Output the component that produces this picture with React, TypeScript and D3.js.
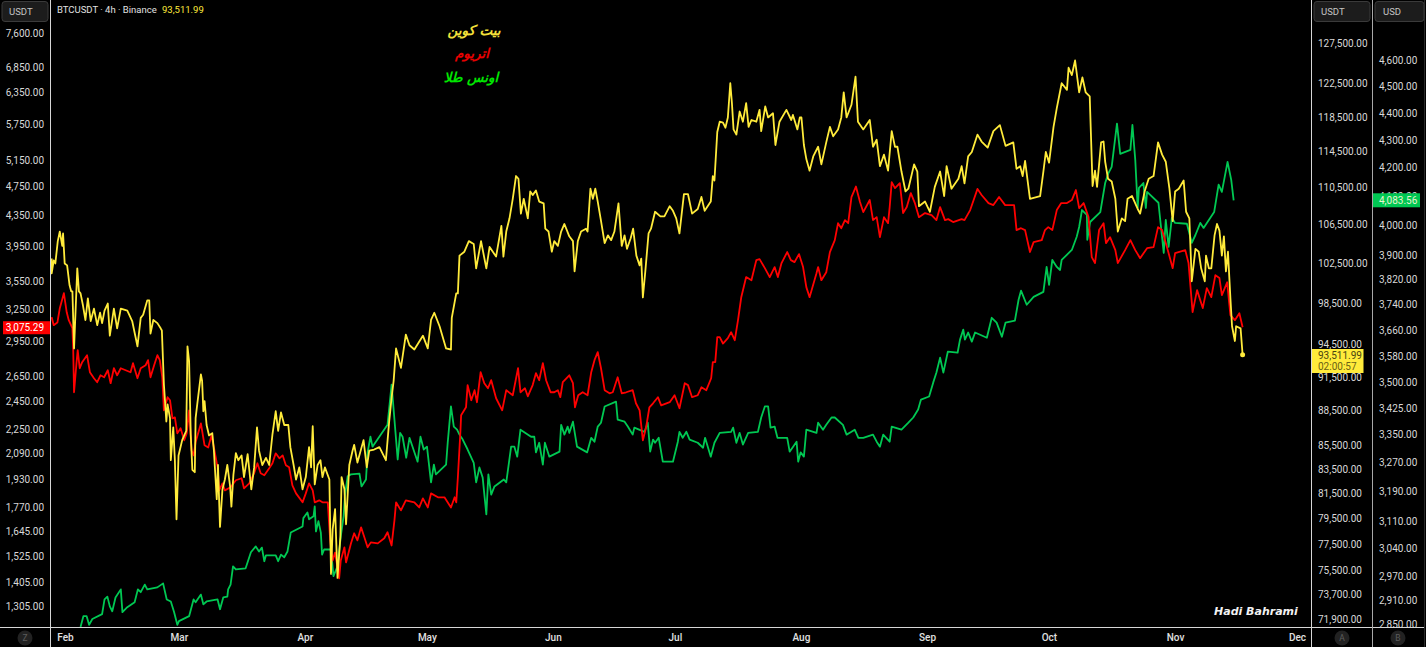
import React, { useEffect, useRef } from 'react'
import * as d3 from 'd3'

// [days since 1 Feb 2025, price]
const btcPoints: [number, number][] = [
[-3.4,102900],[-3.4,101400],[-2.9,102700],[-2.5,102400],[-1.9,104700],[-1.4,105700],[-0.8,104200],[-0.6,105500],[-0.2,102400],[0.4,102200],[1.0,100200],[1.4,99600],[1.7,99600],[2.1,94100],[2.9,101900],[3.3,99600],[3.7,99400],[4.3,98200],[4.9,96800],[5.5,98900],[6.2,96700],[7.0,97900],[7.8,96300],[8.5,97500],[9.0,96500],[9.6,97700],[10.4,98400],[10.9,95300],[11.9,97900],[12.7,96000],[13.6,97900],[15.2,97700],[16.4,96700],[17.7,94300],[18.5,97000],[19.1,97300],[20.1,98700],[20.6,98700],[20.9,95500],[21.6,96800],[22.6,96500],[23.4,96000],[23.7,95800],[24.2,90800],[24.8,87500],[25.1,89000],[25.7,87800],[25.9,84200],[26.5,87000],[26.9,84200],[27.3,79400],[27.8,84600],[28.7,85900],[29.7,86700],[30.0,94300],[30.4,92900],[30.8,86400],[31.2,83400],[31.8,83200],[32.0,87800],[32.4,89000],[33.3,91700],[33.6,91100],[33.9,88400],[34.2,89300],[34.7,87200],[35.3,86300],[36.1,86500],[36.5,85000],[37.2,81000],[37.5,83800],[38.0,78800],[38.6,81800],[39.2,82600],[39.8,83800],[40.5,82000],[40.8,80400],[41.3,83000],[41.9,84800],[42.5,84200],[43.3,84600],[43.9,82800],[44.8,84700],[45.7,81800],[46.4,83600],[47.1,87000],[47.6,85000],[48.4,83800],[49.3,84400],[50.1,83800],[50.9,86400],[51.7,88400],[52.3,86700],[53.0,88300],[53.8,87200],[54.8,87200],[55.3,85300],[56.1,83800],[56.7,82600],[57.5,83600],[58.3,81800],[59.1,82800],[59.9,85300],[60.4,83600],[60.8,87100],[61.3,82200],[62.0,83800],[62.7,84200],[63.2,82800],[63.8,83600],[64.9,82600],[65.3,75200],[65.7,78600],[66.3,80200],[66.9,74900],[67.6,78000],[67.9,82800],[68.6,81800],[69.0,79000],[69.8,83800],[70.6,85000],[71.0,85500],[71.8,84000],[73.3,85900],[74.1,83600],[74.7,85000],[75.9,85100],[77.2,85300],[78.8,84200],[79.6,87500],[80.2,89600],[80.7,91100],[81.3,94100],[81.9,93200],[82.5,92300],[83.7,95400],[84.6,94400],[85.8,94000],[87.9,95300],[89.1,94100],[89.9,96800],[90.7,97500],[92.0,96200],[93.6,94100],[94.8,94000],[95.0,97000],[96.1,99400],[96.5,99400],[96.9,103200],[98.1,103600],[99.2,104700],[100.4,104400],[101.0,101900],[102.2,104700],[103.5,101900],[104.3,104100],[105.9,103100],[107.2,106300],[107.7,103100],[108.4,105700],[109.2,107100],[110.0,109200],[110.8,111700],[111.4,111400],[112.0,107600],[112.7,109200],[113.7,107100],[114.3,110000],[114.9,109600],[115.7,110100],[116.5,108900],[117.6,108700],[118.0,106000],[118.8,105700],[119.6,103600],[120.2,104700],[121.1,104200],[121.9,105700],[122.7,106500],[123.9,105200],[124.8,104700],[125.2,101600],[126.0,104700],[126.8,105700],[128.0,106000],[128.4,105700],[129.1,110300],[129.7,109200],[130.3,110300],[130.9,108900],[131.6,107100],[132.6,104500],[133.4,105300],[134.2,104800],[135.0,105700],[136.0,108700],[136.8,104200],[137.5,105300],[138.1,103900],[139.0,105000],[139.6,106000],[140.4,103200],[141.2,102200],[141.6,102900],[142.0,99000],[142.6,101600],[143.4,105500],[144.0,106000],[145.0,107800],[146.3,107300],[147.3,107300],[148.6,108400],[149.4,107900],[150.2,107100],[151.0,105500],[152.1,109700],[153.1,109700],[154.1,107600],[155.5,108100],[156.4,109400],[157.2,107900],[158.7,108900],[159.2,111700],[159.6,111200],[160.3,116700],[160.9,117900],[161.7,117800],[162.3,117200],[162.9,118400],[163.5,122500],[163.9,120100],[164.3,117000],[165.0,116400],[165.8,119100],[166.6,117900],[167.4,120100],[168.0,117300],[168.7,118100],[169.9,117900],[170.7,119300],[171.1,116800],[172.1,119700],[172.8,118400],[174.0,118900],[174.6,115200],[175.6,117900],[177.3,119300],[178.5,118100],[178.9,118700],[180.0,117000],[180.6,118400],[181.0,118400],[181.6,115200],[182.2,113600],[183.0,112300],[183.9,113900],[185.1,115000],[185.9,113000],[187.1,115500],[188.0,117300],[188.8,116200],[190.0,117000],[190.8,118400],[191.4,121400],[192.1,118400],[193.3,119900],[194.3,123300],[194.9,117900],[196.2,117000],[197.8,118100],[198.6,115000],[199.5,115800],[200.3,112800],[201.3,114100],[202.3,112300],[203.2,116800],[204.0,115000],[204.6,115000],[205.6,112200],[206.6,110000],[207.3,110300],[208.7,113000],[209.5,112200],[209.9,108400],[211.4,108900],[212.6,107800],[213.8,110500],[215.1,112200],[216.1,109500],[216.7,112800],[217.9,110300],[219.6,111400],[220.4,112800],[221.1,110900],[222.0,113900],[222.9,114400],[224.3,116400],[225.3,115600],[226.8,114900],[228.2,116800],[229.8,117500],[231.2,115100],[233.1,115500],[233.9,112500],[234.8,112800],[235.4,111700],[236.0,113400],[237.2,109200],[239.7,109500],[240.5,112200],[241.1,114400],[241.9,113200],[243.0,117300],[243.8,119500],[245.0,122500],[246.3,121700],[246.7,124400],[247.5,123500],[248.3,125300],[249.3,121400],[250.1,123200],[250.9,121400],[251.9,120900],[252.6,110600],[253.2,112300],[253.7,110500],[254.7,115500],[255.3,115600],[255.7,113300],[256.4,111400],[257.3,111100],[258.2,109200],[258.8,105700],[259.8,107100],[260.6,106800],[261.2,109200],[262.3,109500],[263.7,108100],[264.3,107600],[265.4,110000],[266.4,111400],[267.6,111700],[268.7,115500],[269.7,114100],[270.6,113300],[271.5,110300],[272.3,106800],[272.9,110000],[273.8,110300],[275.0,111200],[275.6,107800],[276.4,107100],[277.0,100600],[277.9,103900],[278.7,103600],[279.3,101900],[280.2,100600],[280.5,103200],[281.2,101900],[281.8,101900],[282.6,105300],[283.2,106500],[283.8,105800],[284.4,103200],[284.9,105200],[285.4,101600],[285.9,103600],[286.5,98900],[286.9,96200],[287.6,94800],[287.9,96200],[289.0,96000],[289.5,93511.99],
]

const ethPoints: [number, number][] = [
[-3.4,3172],[-2.9,3095],[-2.0,3120],[-1.4,3260],[-0.4,3415],[0.3,3220],[0.8,3143],[1.7,3066],[1.9,2866],[2.1,2518],[2.7,2753],[3.0,2866],[3.5,2711],[4.1,2762],[5.3,2822],[6.0,2678],[7.0,2629],[7.8,2597],[8.6,2653],[9.5,2637],[10.4,2694],[11.1,2589],[11.9,2711],[12.7,2653],[13.6,2711],[14.8,2694],[16.0,2678],[16.6,2753],[17.7,2629],[18.5,2711],[19.7,2736],[20.3,2779],[20.9,2637],[21.8,2736],[22.6,2822],[23.2,2779],[23.8,2637],[24.2,2382],[25.1,2480],[25.7,2457],[26.3,2324],[26.9,2331],[27.5,2219],[28.3,2254],[29.2,2172],[29.8,2219],[30.4,2382],[31.0,2106],[31.5,2074],[32.0,2159],[33.3,2288],[34.2,2139],[35.1,2125],[35.9,2205],[36.5,2125],[37.4,1999],[37.8,1862],[38.6,1903],[39.2,1862],[40.6,1880],[41.9,1921],[43.3,1933],[43.9,1874],[45.2,1903],[46.4,1963],[47.2,2024],[48.0,1963],[48.9,1951],[50.1,1993],[50.9,2024],[51.7,2087],[52.6,2055],[53.4,2074],[54.2,2012],[55.0,1999],[55.8,1891],[56.7,1845],[58.3,1795],[59.1,1845],[59.9,1903],[60.8,1862],[61.3,1795],[62.4,1806],[63.2,1795],[64.5,1795],[65.1,1597],[65.7,1501],[66.3,1538],[66.9,1469],[67.3,1421],[67.7,1501],[68.6,1563],[69.0,1492],[70.2,1582],[71.0,1632],[71.8,1597],[72.7,1662],[73.5,1612],[74.3,1563],[75.1,1587],[76.8,1582],[78.4,1607],[79.2,1637],[80.2,1572],[80.9,1698],[81.3,1795],[82.5,1751],[83.7,1806],[85.8,1795],[87.0,1767],[87.9,1817],[89.1,1767],[89.9,1845],[91.6,1823],[93.2,1823],[94.8,1767],[95.7,1823],[96.1,1795],[96.5,1939],[97.1,2219],[97.3,2346],[98.5,2404],[98.9,2574],[99.8,2457],[100.6,2534],[101.2,2442],[102.1,2678],[103.0,2589],[103.9,2549],[104.7,2613],[105.9,2472],[107.4,2382],[108.4,2534],[110.0,2495],[111.3,2711],[111.9,2518],[113.0,2549],[113.7,2487],[114.9,2574],[115.7,2670],[116.5,2613],[117.4,2753],[118.2,2613],[119.3,2518],[120.2,2518],[121.1,2534],[121.7,2480],[122.3,2597],[123.9,2653],[124.8,2589],[125.3,2404],[126.1,2495],[127.2,2518],[128.4,2495],[129.3,2678],[130.1,2779],[130.9,2849],[131.7,2711],[132.6,2534],[133.8,2510],[134.6,2518],[135.8,2637],[136.8,2510],[137.9,2518],[139.5,2534],[140.3,2434],[141.2,2382],[142.0,2172],[142.8,2261],[143.6,2404],[144.5,2434],[145.7,2480],[146.5,2419],[148.6,2442],[149.8,2495],[151.0,2397],[152.3,2589],[153.1,2574],[154.1,2480],[155.5,2495],[156.4,2557],[157.6,2534],[158.8,2629],[159.2,2762],[159.8,2762],[160.3,2983],[160.9,2983],[161.7,2925],[162.9,2974],[163.7,3029],[164.6,2955],[165.4,3143],[166.2,3373],[167.4,3588],[168.7,3554],[169.9,3780],[170.7,3792],[172.0,3688],[173.2,3588],[174.4,3700],[175.2,3588],[176.1,3746],[177.5,3875],[178.4,3780],[179.3,3757],[180.4,3851],[181.4,3700],[182.2,3479],[183.0,3373],[184.7,3630],[185.1,3700],[185.9,3554],[187.1,3642],[188.0,3875],[189.2,4020],[190.0,4235],[190.8,4170],[191.7,4275],[192.5,4235],[193.3,4589],[194.4,4740],[195.4,4520],[196.2,4382],[197.8,4547],[198.6,4275],[199.5,4314],[200.3,4057],[201.3,4314],[202.3,4235],[202.7,4450],[203.2,4805],[204.0,4717],[205.2,4790],[206.0,4369],[206.9,4450],[207.9,4646],[208.9,4505],[209.9,4314],[211.4,4369],[213.0,4341],[214.2,4275],[215.1,4450],[216.3,4275],[217.1,4288],[218.3,4249],[220.4,4288],[221.1,4275],[222.5,4409],[224.3,4706],[225.3,4618],[227.0,4505],[228.2,4477],[229.6,4589],[231.1,4477],[233.3,4477],[233.9,4146],[235.0,4170],[236.0,4146],[237.2,3875],[238.1,3995],[240.1,4020],[240.9,4146],[241.7,4184],[242.7,4146],[243.8,4409],[244.9,4505],[246.3,4505],[247.5,4547],[248.5,4689],[249.3,4436],[250.4,4505],[251.6,4314],[252.4,3815],[253.2,3746],[254.2,4146],[255.3,4235],[255.9,3983],[256.9,4057],[258.2,3898],[258.8,3746],[260.6,3898],[261.9,4020],[263.1,3898],[264.3,3803],[266.0,3922],[267.6,3934],[268.7,4184],[269.7,4146],[270.9,3934],[272.3,3688],[272.9,3862],[275.4,3898],[276.2,3746],[277.2,3221],[278.3,3447],[279.7,3262],[280.7,3468],[281.8,3373],[282.8,3609],[283.8,3577],[284.4,3394],[285.7,3531],[286.5,3192],[287.6,3143],[288.7,3211],[289.5,3075.29],
]

const goldPoints: [number, number][] = [
[3.7,2843],[4.4,2869],[5.2,2869],[5.8,2848],[6.6,2862],[9.0,2874],[9.6,2910],[10.3,2917],[10.9,2893],[11.5,2881],[12.3,2915],[13.6,2935],[14.0,2879],[15.2,2891],[17.0,2903],[17.8,2935],[18.5,2928],[19.5,2947],[20.1,2935],[22.6,2940],[24.0,2950],[24.9,2910],[25.9,2905],[26.7,2879],[27.5,2848],[27.9,2857],[30.4,2869],[31.5,2910],[32.0,2903],[33.3,2922],[33.9,2898],[34.7,2905],[37.4,2910],[38.0,2886],[38.8,2915],[39.8,2917],[40.0,2935],[40.6,2947],[41.2,2993],[41.9,2985],[44.3,2988],[45.6,3029],[46.8,3044],[47.6,3031],[48.3,3041],[48.9,3006],[49.3,3021],[51.7,3021],[52.3,3006],[53.0,3023],[53.8,3016],[54.6,3031],[55.4,3080],[58.3,3096],[58.5,3118],[59.5,3133],[59.9,3115],[61.0,3123],[61.3,3149],[61.6,3083],[62.2,3110],[62.8,3080],[63.1,3023],[63.6,3036],[65.3,3036],[65.9,2968],[66.9,2993],[67.7,3070],[68.4,3123],[68.7,3176],[69.4,3231],[70.2,3236],[72.3,3238],[72.8,3203],[73.9,3222],[74.3,3297],[75.0,3341],[75.5,3313],[79.2,3375],[80.2,3492],[80.7,3419],[81.7,3277],[82.3,3352],[82.9,3341],[83.8,3282],[84.6,3338],[86.6,3271],[87.3,3341],[88.1,3305],[88.9,3313],[89.9,3214],[90.6,3263],[91.1,3236],[93.6,3263],[94.0,3324],[94.8,3428],[95.5,3370],[96.3,3361],[96.9,3347],[97.7,3333],[98.9,3305],[100.4,3268],[101.0,3214],[101.8,3255],[102.6,3227],[103.5,3128],[104.0,3236],[104.7,3181],[105.5,3203],[107.8,3222],[108.4,3214],[109.6,3313],[110.4,3313],[111.1,3285],[111.9,3361],[114.5,3341],[115.3,3341],[115.7,3297],[116.5,3324],[117.4,3263],[117.9,3324],[119.0,3285],[121.5,3299],[121.9,3375],[122.7,3347],[123.5,3370],[123.9,3352],[124.8,3384],[125.8,3313],[128.3,3297],[129.3,3338],[130.1,3327],[130.9,3370],[131.7,3381],[132.6,3428],[135.4,3442],[135.8,3390],[137.5,3384],[138.3,3370],[139.5,3347],[139.9,3367],[142.4,3355],[143.2,3381],[143.8,3299],[144.5,3333],[145.0,3324],[145.9,3338],[146.9,3271],[149.4,3271],[150.6,3327],[151.0,3355],[151.8,3338],[152.7,3355],[153.5,3333],[155.5,3324],[156.8,3310],[157.3,3338],[158.7,3285],[159.6,3324],[160.9,3352],[163.7,3355],[164.2,3367],[165.0,3324],[165.8,3352],[166.6,3319],[167.9,3352],[170.3,3355],[171.1,3396],[172.0,3428],[172.8,3428],[173.4,3367],[174.4,3370],[175.1,3338],[177.5,3338],[178.1,3299],[179.8,3327],[180.2,3271],[180.8,3297],[181.6,3285],[182.2,3361],[184.7,3352],[185.1,3381],[186.3,3361],[187.1,3375],[188.4,3396],[189.2,3396],[191.2,3375],[192.1,3347],[193.3,3355],[194.1,3361],[195.0,3338],[196.2,3338],[198.6,3347],[199.5,3327],[200.3,3313],[201.1,3347],[202.7,3327],[203.2,3370],[205.6,3361],[207.3,3381],[208.5,3396],[209.7,3419],[210.4,3448],[212.4,3457],[213.4,3498],[214.2,3528],[215.1,3573],[215.9,3528],[217.0,3591],[219.4,3588],[220.0,3628],[220.8,3659],[221.2,3628],[222.0,3650],[222.9,3622],[223.7,3650],[226.6,3634],[227.8,3696],[229.0,3681],[230.3,3637],[231.2,3681],[233.5,3687],[234.4,3753],[235.0,3782],[236.4,3737],[238.1,3762],[240.5,3778],[241.3,3859],[241.9,3801],[242.7,3882],[243.8,3859],[244.6,3849],[245.0,3882],[247.5,3915],[248.7,3959],[249.3,3992],[250.0,4050],[251.2,4033],[251.3,3949],[252.0,4009],[254.5,4043],[255.7,4144],[256.5,4179],[257.3,4201],[258.6,4358],[259.4,4248],[261.9,4262],[262.4,4353],[263.1,4226],[263.7,4057],[264.0,4127],[265.1,4144],[265.7,4057],[266.0,4113],[268.8,4075],[270.1,3905],[270.6,4016],[271.3,3925],[272.1,4023],[272.9,4006],[275.8,4003],[277.0,3939],[277.9,3965],[279.1,4006],[279.9,3989],[282.5,4043],[283.6,4138],[284.4,4113],[285.8,4219],[286.7,4155],[287.3,4083.56],
]

const ethTicks = [7600, 6850, 6350, 5750, 5150, 4750, 4350, 3950, 3550, 3250, 2950, 2650, 2450, 2250, 2090, 1930, 1770, 1645, 1525, 1405, 1305]
const btcTicks = [127500, 122500, 118500, 114500, 110500, 106500, 102500, 98500, 94500, 91500, 88500, 85500, 83500, 81500, 79500, 77500, 75500, 73700, 71900]
const goldTicks = [4600, 4500, 4400, 4300, 4200, 4100, 4000, 3900, 3820, 3740, 3660, 3580, 3500, 3425, 3350, 3270, 3190, 3110, 3040, 2970, 2910, 2850]
const monthTicks = ['2025-02-01', '2025-03-01', '2025-04-01', '2025-05-01', '2025-06-01', '2025-07-01', '2025-08-01', '2025-09-01', '2025-10-01', '2025-11-01', '2025-12-01']
const legendLabels = ['بیت کوین', 'اتریوم', 'اونس طلا']

const W = 1426
const H = 647
const UI_FONT = 'Roboto, "Noto Sans", sans-serif'
const YELLOW = '#ffeb3b'
const RED = '#ff0000'
const GREEN = '#00c853'
const AXIS_LINE = '#d6d6d6'

const fmt = d3.format(',.2f')
const day0 = Date.UTC(2025, 1, 1)
const toDate = (d: number) => new Date(day0 + d * 86400000)

export default function App() {
    const svgRef = useRef<SVGSVGElement>(null)

    useEffect(() => {
        if (!svgRef.current) return
        const svg = d3.select(svgRef.current)
        svg.selectAll('*').remove()

        const plotBottom = 627
        const x = d3.scaleUtc()
            .domain([new Date(monthTicks[0]), new Date(monthTicks[10])])
            .range([65.5, 1297.5])

        const yEth = d3.scaleLog().domain([1305, 7600]).range([606, 33])
        const yBtc = d3.scaleLog().domain([71900, 127500]).range([619, 43])
        const yGold = d3.scaleLog().domain([2850, 4600]).range([624, 60])

        svg.append('rect').attr('width', W).attr('height', H).attr('fill', '#000')

        const defs = svg.append('defs')
        defs.append('clipPath').attr('id', 'plot-clip').append('rect')
            .attr('x', 51).attr('y', 0).attr('width', 1260).attr('height', plotBottom)
        defs.append('clipPath').attr('id', 'axis-clip').append('rect')
            .attr('x', 0).attr('y', 0).attr('width', W).attr('height', plotBottom)

        // Lines
        const plot = svg.append('g').attr('clip-path', 'url(#plot-clip)')
        const series: [[number, number][], d3.ScaleLogarithmic<number, number>, string][] = [
            [goldPoints, yGold, GREEN],
            [ethPoints, yEth, RED],
            [btcPoints, yBtc, YELLOW],
        ]
        series.forEach(([points, y, color]) => {
            const line = d3.line<[number, number]>()
                .x(d => x(toDate(d[0])))
                .y(d => y(d[1]))
            plot.append('path')
                .datum(points)
                .attr('fill', 'none')
                .attr('stroke', color)
                .attr('stroke-width', 1.8)
                .attr('stroke-linejoin', 'round')
                .attr('d', line)
        })

        const lastBtc = btcPoints[btcPoints.length - 1]
        plot.append('circle')
            .attr('cx', x(toDate(lastBtc[0])))
            .attr('cy', yBtc(lastBtc[1]))
            .attr('r', 2.5)
            .attr('fill', YELLOW)

        // Price axes
        const axisText = svg.append('g')
            .attr('clip-path', 'url(#axis-clip)')
            .attr('font-family', UI_FONT)
            .attr('font-size', 10)
            .attr('fill', '#d8d8d8')

        axisText.selectAll('.eth-tick').data(ethTicks).enter().append('text')
            .attr('x', 44).attr('y', d => yEth(d) + 0.7).attr('dy', '0.35em')
            .attr('text-anchor', 'end').text(d => fmt(d))
        axisText.selectAll('.btc-tick').data(btcTicks).enter().append('text')
            .attr('x', 1318).attr('y', d => yBtc(d) + 0.7).attr('dy', '0.35em')
            .text(d => fmt(d))
        axisText.selectAll('.gold-tick').data(goldTicks).enter().append('text')
            .attr('x', 1379).attr('y', d => yGold(d) + 0.7).attr('dy', '0.35em')
            .text(d => fmt(d))

        // Month labels
        svg.append('g').selectAll('text').data(monthTicks).enter().append('text')
            .attr('x', d => x(new Date(d)))
            .attr('y', 637.5)
            .attr('dy', '0.35em')
            .attr('text-anchor', 'middle')
            .attr('font-family', UI_FONT)
            .attr('font-size', 10)
            .attr('font-weight', 500)
            .attr('fill', '#e0e0e0')
            .text(d => d3.utcFormat('%b')(new Date(d)))

        // Panel borders
        const borders = svg.append('g').attr('stroke', AXIS_LINE).attr('stroke-width', 1)
        borders.append('line').attr('x1', 0).attr('x2', 1424).attr('y1', plotBottom + 0.5).attr('y2', plotBottom + 0.5)
        ;[50.5, 1311.5].forEach(px => {
            borders.append('line').attr('x1', px).attr('x2', px).attr('y1', 0).attr('y2', H)
        })
        borders.append('line').attr('x1', 1372.5).attr('x2', 1372.5).attr('y1', 0).attr('y2', H).attr('stroke', '#a8a8a8')
        borders.append('line').attr('x1', 1424.5).attr('x2', 1424.5).attr('y1', 0).attr('y2', H).attr('stroke', '#2a2a2a')

        // Unit chips
        const chips: [number, number, string][] = [[2, 46, 'USDT'], [1314, 56, 'USDT'], [1375, 49, 'USD']]
        chips.forEach(([cx, cw, label]) => {
            svg.append('rect').attr('x', cx).attr('y', 1.5).attr('width', cw).attr('height', 20).attr('rx', 3)
                .attr('fill', '#1c1c1c').attr('stroke', '#3a3a3a')
            svg.append('text').attr('x', cx + (label === 'USDT' ? 7 : 8)).attr('y', 12).attr('dy', '0.35em')
                .attr('font-family', UI_FONT).attr('font-size', 9.5).attr('fill', '#c4c4c4').text(label)
        })

        // Pane badges
        const badges: [number, string][] = [[25, 'Z'], [1342, 'A'], [1398, 'B']]
        badges.forEach(([bx, label]) => {
            svg.append('circle').attr('cx', bx).attr('cy', 638).attr('r', 7.5).attr('fill', '#222')
            svg.append('text').attr('x', bx).attr('y', 638).attr('dy', '0.35em').attr('text-anchor', 'middle')
                .attr('font-family', UI_FONT).attr('font-size', 8.5).attr('fill', '#5c5c5c').text(label)
        })

        // Title
        const title = svg.append('text').attr('x', 57).attr('y', 9.5).attr('dy', '0.35em')
            .attr('font-family', UI_FONT).attr('font-size', 9.5).attr('fill', '#e0e0e0')
        title.append('tspan').text('BTCUSDT · 4h · Binance')
        title.append('tspan').attr('x', 162).attr('fill', YELLOW).text(fmt(lastBtc[1]))

        // Persian legend
        const legendColors = ['#f4e13a', '#e60000', '#00e600']
        const legendX = [474, 472, 471]
        const legendY = [30, 53, 77]
        legendLabels.forEach((label, i) => {
            svg.append('text')
                .attr('x', legendX[i]).attr('y', legendY[i]).attr('dy', '0.35em')
                .attr('text-anchor', 'middle').attr('direction', 'rtl')
                .attr('font-family', '"DejaVu Sans", sans-serif')
                .attr('font-size', 13.5).attr('font-weight', 'bold').attr('font-style', 'italic')
                .attr('fill', legendColors[i]).text(label)
        })

        svg.append('text').attr('x', 1214).attr('y', 611).attr('dy', '0.35em')
            .attr('font-family', '"DejaVu Sans", sans-serif').attr('font-size', 11)
            .attr('font-weight', 'bold').attr('font-style', 'italic').attr('fill', '#f2f2f2')
            .text('Hadi Bahrami')

        // Last value tags
        const lastEth = ethPoints[ethPoints.length - 1][1]
        const lastGold = goldPoints[goldPoints.length - 1][1]
        const ethY = yEth(lastEth)
        svg.append('rect').attr('x', 3).attr('y', ethY - 6).attr('width', 47).attr('height', 13).attr('fill', RED)
        svg.append('text').attr('x', 44).attr('y', ethY + 0.5).attr('dy', '0.35em').attr('text-anchor', 'end')
            .attr('font-family', UI_FONT).attr('font-size', 10).attr('fill', '#fff').text(fmt(lastEth))

        const goldY = yGold(lastGold)
        svg.append('rect').attr('x', 1373).attr('y', goldY - 7).attr('width', 47).attr('height', 14).attr('fill', GREEN)
        svg.append('text').attr('x', 1379).attr('y', goldY).attr('dy', '0.35em')
            .attr('font-family', UI_FONT).attr('font-size', 10).attr('fill', '#e8f5d0').text(fmt(lastGold))

        svg.append('rect').attr('x', 1312).attr('y', 349).attr('width', 51.5).attr('height', 24).attr('fill', YELLOW)
        svg.append('text').attr('x', 1318).attr('y', 355.5).attr('dy', '0.35em')
            .attr('font-family', UI_FONT).attr('font-size', 10).attr('fill', '#4a4410').text(fmt(lastBtc[1]))
        svg.append('text').attr('x', 1318).attr('y', 366.5).attr('dy', '0.35em')
            .attr('font-family', UI_FONT).attr('font-size', 10).attr('fill', '#6a6215').text('02:00:57')
    }, [])

    return <svg ref={svgRef} width={W} height={H} viewBox={`0 0 ${W} ${H}`} style={{ position: 'fixed', left: 0, top: 0, display: 'block' }} />
}
